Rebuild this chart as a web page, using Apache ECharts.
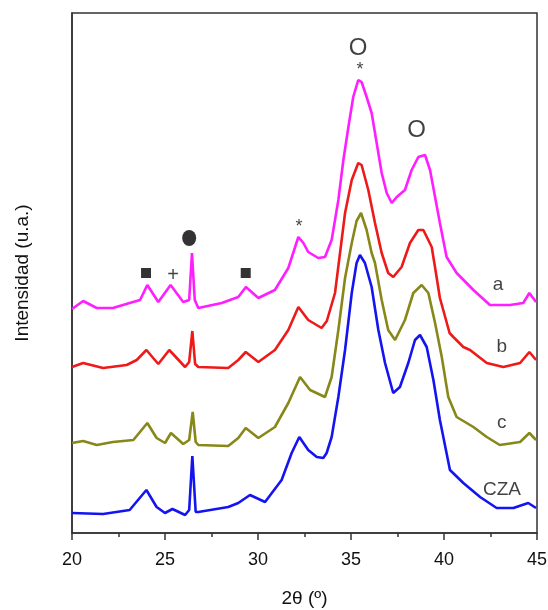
<!DOCTYPE html>
<html lang="es">
<head>
<meta charset="UTF-8">
<title>DRX</title>
<script src="https://cdn.jsdelivr.net/npm/echarts@6/dist/echarts.min.js"></script>
<style>
  html, body { margin: 0; padding: 0; background: #fff; }
  #chart { width: 548px; height: 610px; }
</style>
</head>
<body>
<div id="chart"></div>
<script>
// patterns: [2theta, intensity (u.a., offset)]
var serieA = [[20.0,224],[20.6,232],[21.33,225],[22.2,225],[23.1,230],[23.66,233],[24.05,248],[24.64,231],[25.3,248],[25.98,231],[26.3,233],[26.45,280],[26.6,233],[26.79,225],[28.05,230],[28.94,236],[29.35,246],[30.02,235],[30.91,243],[31.63,265],[32.17,296],[32.44,290],[32.7,281],[33.24,275],[33.6,276],[33.96,293],[34.32,333],[34.59,373],[34.86,406],[35.12,436],[35.39,453],[35.57,451],[35.84,436],[36.11,420],[36.38,390],[36.65,360],[36.92,340],[37.19,330],[37.46,336],[37.9,343],[38.26,363],[38.62,376],[38.98,378],[39.25,363],[39.52,336],[39.78,310],[40.14,276],[40.68,260],[41.58,243],[42.47,228],[43.55,228],[44.26,230],[44.59,240],[44.95,231]];
var serieB = [[20.0,166],[20.6,170],[21.67,165],[22.94,168],[23.48,173],[24.0,183],[24.64,169],[25.23,183],[26.08,166],[26.3,171],[26.47,202],[26.62,169],[26.79,166],[28.4,165],[28.94,173],[29.34,181],[30.02,171],[30.91,183],[31.63,203],[32.17,226],[32.7,213],[33.42,205],[33.7,212],[34.14,240],[34.68,320],[35.04,353],[35.39,370],[35.57,368],[35.93,343],[36.29,310],[36.65,280],[37.0,260],[37.27,256],[37.72,266],[38.17,290],[38.62,303],[38.89,303],[39.34,286],[39.55,262],[39.78,235],[40.3,200],[40.5,196],[41.04,186],[41.4,183],[42.3,170],[43.19,166],[44.09,170],[44.59,181],[44.95,173]];
var serieC = [[20.0,90],[20.6,92],[21.33,88],[22.2,91],[23.3,93],[24.05,110],[24.55,95],[25.0,90],[25.32,100],[25.98,89],[26.3,93],[26.49,121],[26.65,91],[26.79,88],[28.4,87],[28.94,95],[29.34,105],[30.02,95],[30.91,106],[31.63,130],[32.26,156],[32.8,143],[33.6,136],[33.96,156],[34.32,203],[34.68,255],[35.04,290],[35.3,312],[35.54,320],[35.84,303],[36.11,280],[36.29,270],[36.65,233],[37.0,203],[37.37,193],[37.9,213],[38.35,240],[38.8,248],[39.16,240],[39.52,210],[39.88,176],[40.23,136],[40.68,116],[41.58,106],[42.3,96],[43.0,88],[44.09,91],[44.59,100],[44.95,93]];
var serieCZA = [[20.0,20],[21.67,19],[23.1,23],[24.0,43],[24.55,26],[25.0,20],[25.4,24],[26.08,18],[26.3,23],[26.47,77],[26.65,21],[26.79,21],[28.4,26],[28.94,30],[29.57,38],[30.38,31],[31.27,53],[31.81,80],[32.22,96],[32.7,83],[33.16,76],[33.51,75],[33.69,80],[33.96,96],[34.32,136],[34.68,183],[35.04,240],[35.3,270],[35.48,278],[35.75,270],[36.11,246],[36.47,203],[36.83,170],[37.27,140],[37.63,146],[38.08,170],[38.44,193],[38.71,198],[39.07,186],[39.43,153],[39.78,113],[40.32,63],[41.04,50],[41.94,36],[42.83,25],[43.73,25],[44.53,30],[44.95,25]];

var xTicks = [20, 25, 30, 35, 40, 45];

// phase marks and sample labels, in data coordinates
var textItems = ['O', '*', 'O', '*', '+', 'a', 'b', 'c', 'CZA'];
var textX = [35.38, 35.48, 38.53, 32.2, 25.43, 42.9, 43.1, 43.1, 43.12];
var textY = [485, 463, 403, 306, 258, 248, 186, 110, 43];
var textSize = [24, 18, 24, 18, 20, 19, 19, 19, 19];
var squareX = [23.98, 29.34];
var squareY = [260, 260];
var dotX = [26.3];
var dotY = [295];

var font = 'Liberation Sans, Arial, sans-serif';
var chart = echarts.init(document.getElementById('chart'));

function lineSerie(name, data, color) {
  return {
    name: name, type: 'line', data: data, showSymbol: false, smooth: false,
    lineStyle: { color: color, width: 2.6 }, z: 3, silent: true
  };
}

var textData = textItems.map(function (t, i) {
  return { value: [textX[i], textY[i]], label: { formatter: t, fontSize: textSize[i] } };
});

var option = {
  animation: false,
  backgroundColor: '#fff',
  grid: { left: 72, right: 11, top: 13, bottom: 77, show: true, borderColor: '#333', borderWidth: 1.5,
    containLabel: false, outerBoundsMode: 'none' },
  xAxis: {
    type: 'value', min: 20, max: 45, interval: 5,
    name: '2\u03b8 (\u00ba)', nameLocation: 'middle', nameGap: 56,
    nameTextStyle: { fontFamily: font, fontSize: 19, color: '#111' },
    axisLine: { lineStyle: { color: '#333', width: 1.5 } },
    axisTick: { inside: false, length: 7, lineStyle: { color: '#333', width: 1.5 } },
    minorTick: { show: true, splitNumber: 2, length: 4, lineStyle: { color: '#333', width: 1.5 } },
    axisLabel: { fontFamily: font, fontSize: 18, color: '#111', margin: 18,
      formatter: function (v) { return xTicks.indexOf(v) >= 0 ? v : ''; } },
    splitLine: { show: false }
  },
  yAxis: {
    type: 'value', min: 0, max: 520,
    name: 'Intensidad (u.a.)', nameLocation: 'middle', nameGap: 40,
    nameTextStyle: { fontFamily: font, fontSize: 19, color: '#111' },
    axisLine: { show: true, lineStyle: { color: '#333', width: 1.5 } },
    axisTick: { show: false }, axisLabel: { show: false }, splitLine: { show: false }
  },
  series: [
    lineSerie('CZA', serieCZA, '#1414f0'),
    lineSerie('c', serieC, '#87871a'),
    lineSerie('b', serieB, '#ee1a1a'),
    lineSerie('a', serieA, '#ff1eff'),
    {
      type: 'scatter', symbol: 'rect', symbolSize: 10, silent: true, z: 4,
      itemStyle: { color: '#000' },
      data: squareX.map(function (x, i) { return [x, squareY[i]]; })
    },
    {
      type: 'scatter', symbol: 'circle', symbolSize: [14, 16], silent: true, z: 4,
      itemStyle: { color: '#000' },
      data: dotX.map(function (x, i) { return [x, dotY[i]]; })
    },
    {
      type: 'scatter', symbolSize: 0, silent: true, z: 5,
      label: { show: true, position: 'inside', fontFamily: font, color: '#111' },
      data: textData
    }
  ]
};

chart.setOption(option);
</script>
</body>
</html>
